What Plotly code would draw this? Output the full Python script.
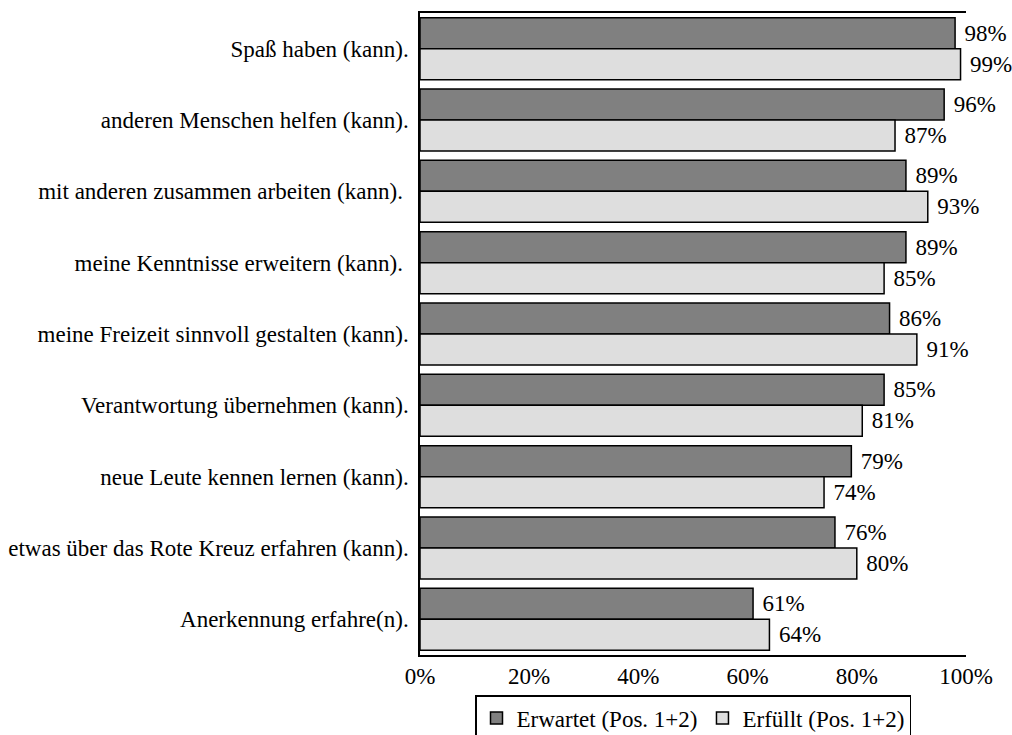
import plotly.graph_objects as go

categories = [
    "Spaß haben (kann).",
    "anderen Menschen helfen (kann).",
    "mit anderen zusammen arbeiten (kann).\u00a0",
    "meine Kenntnisse erweitern (kann).\u00a0",
    "meine Freizeit sinnvoll gestalten (kann).",
    "Verantwortung übernehmen (kann).",
    "neue Leute kennen lernen (kann).",
    "etwas über das Rote Kreuz erfahren (kann).",
    "Anerkennung erfahre(n).",
]
erwartet = [98, 96, 89, 89, 86, 85, 79, 76, 61]
erfuellt = [99, 87, 93, 85, 91, 81, 74, 80, 64]
series_names = ["Erwartet (Pos. 1+2)", "Erfüllt (Pos. 1+2)"]
tick_vals = [0, 20, 40, 60, 80, 100]
tick_text = ["0%", "20%", "40%", "60%", "80%", "100%"]

FONT = "Liberation Serif, Times New Roman, serif"
FS = 23

fig = go.Figure()
fig.add_trace(go.Bar(
    y=categories, x=erwartet, orientation="h", name=series_names[0],
    marker=dict(color="#808080", line=dict(color="#000000", width=1.5)),
    text=[f"\u2009\u200a{v}%" for v in erwartet], textposition="outside",
    textfont=dict(family=FONT, size=FS, color="#000000"), cliponaxis=False,
    constraintext="none",
))
fig.add_trace(go.Bar(
    y=categories, x=erfuellt, orientation="h", name=series_names[1],
    marker=dict(color="#dedede", line=dict(color="#000000", width=1.5)),
    text=[f"\u2009\u200a{v}%" for v in erfuellt], textposition="outside",
    textfont=dict(family=FONT, size=FS, color="#000000"), cliponaxis=False,
    constraintext="none",
))

fig.update_layout(
    width=1012, height=735,
    margin=dict(l=420, r=46, t=13, b=80, autoexpand=False),
    paper_bgcolor="white", plot_bgcolor="white",
    barmode="group", bargap=0.13, bargroupgap=0.0,
    font=dict(family=FONT, size=FS, color="#000000"),
    legend=dict(
        orientation="h", x=0.5, xanchor="center",
        yref="container", y=0.0544, yanchor="top",
        bordercolor="#000000", borderwidth=1.5, bgcolor="white",
        font=dict(family=FONT, size=FS, color="#000000"),
        itemwidth=30, tracegroupgap=0,
    ),
    xaxis=dict(
        range=[0, 100], tickvals=tick_vals, ticktext=tick_text,
        showgrid=False, zeroline=False, showline=True, mirror=True,
        linecolor="#000000", linewidth=1.5, ticks="", automargin=False,
        tickfont=dict(family=FONT, size=FS, color="#000000"),
    ),
    yaxis=dict(
        autorange="reversed", showgrid=False, zeroline=False,
        showline=True, linecolor="#000000", linewidth=1.5, automargin=False,
        ticks="outside", ticklen=5, tickcolor="rgba(0,0,0,0)",
        tickfont=dict(family=FONT, size=FS, color="#000000"),
    ),
)

fig.write_html(
    "out.html",
    config={"displayModeBar": False},
    post_script="document.body.style.margin='0';document.body.style.overflow='hidden';",
)
